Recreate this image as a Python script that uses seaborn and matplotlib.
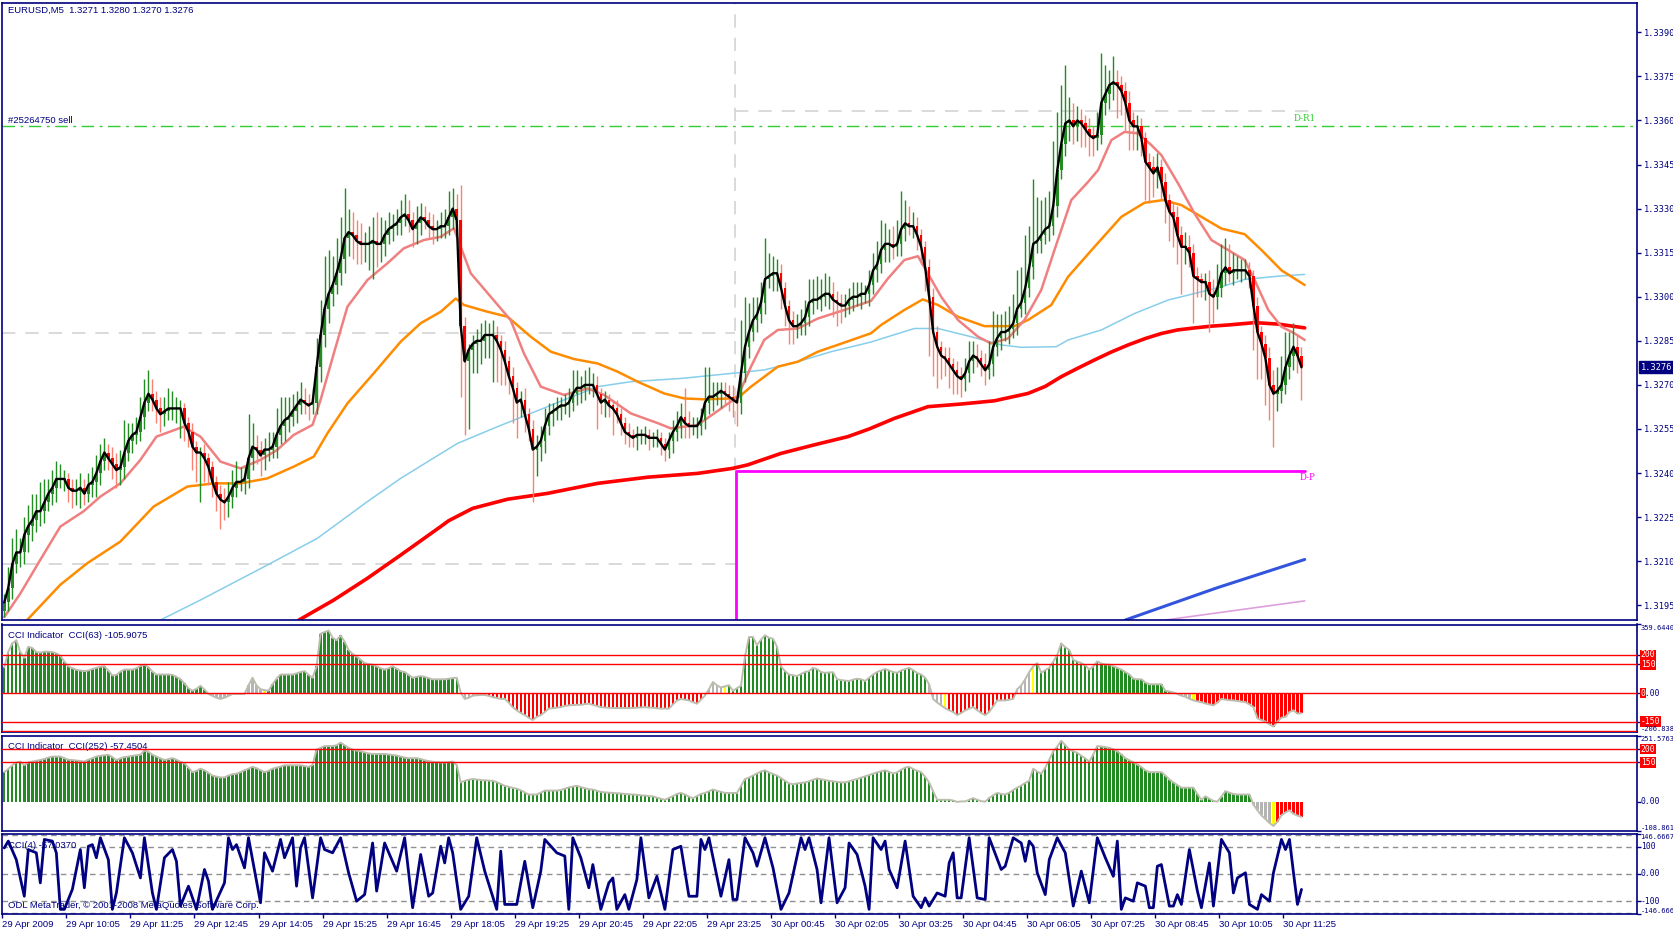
import numpy as np
import matplotlib
matplotlib.use("Agg")
import matplotlib.pyplot as plt
import matplotlib.transforms as mtrans
import seaborn as sns

# ---------------- data (prices in pips above 1.3000) ----------------
SYMBOL_TITLE = "EURUSD,M5  1.3271 1.3280 1.3270 1.3276"
FIRST_OPEN_PIPS = 193
CLOSE_PIPS = [
    196,201,209,213,213,219,222,224,227,227,230,233,235,238,238,238,235,234,234,235,233,236,237,240,244,
    247,245,243,241,242,247,251,253,254,259,264,267,265,262,260,261,262,262,262,262,257,254,249,247,247,
    245,242,237,233,231,230,232,235,237,237,238,245,249,248,246,248,248,249,253,256,258,259,261,263,265,
    264,263,264,276,287,296,301,304,308,313,320,322,321,319,318,318,318,319,318,318,321,323,324,325,327,
    328,326,323,325,327,326,324,323,323,324,324,327,330,326,290,278,282,284,285,285,287,287,287,285,282,
    278,273,269,264,265,260,255,248,249,251,256,260,261,262,263,263,264,267,269,269,270,270,270,267,264,
    265,263,262,260,257,254,253,252,253,253,253,252,252,252,250,248,251,254,256,259,257,256,256,256,258,
    264,266,266,267,268,267,266,265,264,274,283,288,292,294,298,306,307,308,308,303,297,292,290,290,291,
    293,298,299,299,300,301,301,299,298,297,297,299,300,300,301,301,304,309,311,316,318,318,317,318,323,
    325,324,324,321,317,310,300,288,283,280,279,277,275,273,272,274,278,280,279,277,275,277,283,286,288,
    288,289,291,296,298,303,310,318,319,321,323,324,331,343,352,359,360,358,360,359,357,355,354,355,366,
    369,372,373,372,370,366,360,358,358,354,346,344,342,344,339,333,329,327,321,317,317,315,307,306,305,
    305,301,300,303,308,310,308,309,309,309,309,307,297,288,284,279,270,267,268,270,276,280,283,280,276,
]
UPPER_WICK = [
    3,7,9,8,5,6,7,9,6,10,8,5,6,6,5,3,2,3,4,5,3,4,5,6,6,
    5,3,4,4,6,11,6,4,5,7,8,8,5,3,4,5,7,6,4,3,2,2,3,2,2,
    3,2,2,2,3,4,5,6,7,5,4,15,8,4,3,4,6,5,9,10,8,7,6,5,6,
    4,3,5,10,12,18,15,10,12,14,17,8,7,5,6,4,6,8,10,9,5,6,4,5,6,
    7,5,3,6,5,4,3,4,3,5,6,9,7,5,12,3,2,3,4,6,5,4,5,3,2,
    3,2,3,2,3,4,2,3,4,5,6,4,3,4,3,4,5,8,6,4,5,6,4,3,2,
    3,2,2,3,2,2,3,2,3,2,3,2,2,3,2,2,3,4,5,5,10,4,3,3,4,
    12,10,5,4,3,3,3,4,3,18,17,10,8,6,7,14,8,6,5,3,2,2,3,4,5,
    6,8,7,8,6,7,6,4,3,3,4,4,5,5,4,3,5,6,8,10,7,5,6,8,13,
    8,6,5,3,2,2,3,3,2,2,3,4,2,3,3,5,7,5,4,3,4,8,12,8,6,
    7,8,10,13,12,18,14,22,15,12,11,12,22,20,20,20,8,6,5,4,3,4,3,8,17,
    10,5,9,4,3,3,4,3,4,3,2,3,4,5,3,3,2,3,4,3,5,4,3,3,2,
    3,4,5,8,10,10,8,6,5,4,4,3,2,3,2,3,4,5,8,10,12,8,8,4,3,
]
LOWER_WICK = [
    2,3,4,3,5,4,6,5,4,5,4,3,4,5,3,4,5,6,5,6,4,3,4,5,4,
    3,4,5,6,5,4,3,4,3,3,4,3,4,5,6,4,3,4,5,10,6,5,8,10,17,
    8,6,5,6,10,6,5,4,3,3,4,3,4,5,7,5,4,3,4,3,5,4,3,4,3,
    4,5,3,4,5,4,5,4,3,4,5,6,8,8,7,6,9,12,8,6,4,3,4,3,4,
    3,4,6,5,4,3,4,5,4,3,4,3,4,5,24,25,23,8,10,8,6,8,16,14,12,
    8,6,12,12,5,6,4,18,9,5,4,3,4,3,4,3,4,3,4,5,4,3,4,12,4,
    5,4,9,3,4,4,4,3,4,3,3,4,3,3,4,4,3,4,3,4,5,4,3,4,3,
    3,4,5,3,5,4,5,6,8,4,3,4,3,4,3,4,3,5,6,7,7,8,6,4,3,
    4,3,4,3,4,3,5,6,8,6,4,3,4,3,4,3,4,3,4,3,4,6,4,3,4,
    4,3,4,5,6,8,20,15,14,8,6,8,8,6,6,4,3,4,3,4,5,3,4,3,4,
    3,4,3,4,3,4,3,4,3,4,3,4,3,4,3,4,6,6,5,8,6,7,6,4,3,
    4,5,5,11,8,10,10,8,8,6,13,12,8,5,6,8,10,10,10,16,6,5,16,6,5,
    6,13,9,4,3,4,3,4,3,4,3,4,15,16,12,16,12,18,6,4,3,4,5,6,11,
]

# moving averages, read as (bar, pips) vertices
PINK_X = [0,4,9,14,19.8,24,29,34,38,44.8,49,54,59,64,68.2,72.3,77,79,82.3,85.7,90.7,95.7,99.8,104.8,109,112.3,114,116.5,121.5,126.5,129.8,134,139.8,145.7,149.8,156.5,163.2,166.5,173.2,177.3,183.2,186.5,189.8,193.2,198.2,203.2,209.8,216.5,220.7,224.8,228.2,230.7,234,238.2,243.2,246.5,250.7,254.8,259,262.3,266.5,270.7,273.2,276.5,279.8,283.2,286.5,289,293.2,297.3,301.5,305.7,309.8,312.3,315.7,319,322.3,324.8]
PINK_Y = [191,199,210.5,221.8,227,232,236.5,244.5,252.4,255.8,252.4,243.9,241.6,244.5,247.9,253,256.4,264.9,280.7,296.6,305.7,311.4,316.5,319.3,320.4,323.3,317,308,300,292,280.7,269.4,266.6,268.8,266.6,260.3,257,255.2,256.4,260.3,266,276.2,285.3,288.7,289.2,292.6,295.5,298.6,306.2,312.5,313.8,307.9,300,292.1,286.4,284.1,285.8,292.1,302.3,315.9,332.9,339.1,343.1,353.3,356.1,355.6,351.6,348.2,338.5,328.3,319.3,315.9,312.5,305.7,295.5,289.8,287.5,285.3]
ORANGE_X = [5.7,14,20.7,29,37.3,45.7,52.3,59,65.7,72.3,77.3,80.7,85.7,92.3,99,104,109,112.75,114.8,120.7,125.7,131.5,136.5,142.3,148.2,153.2,158.2,164.8,169.8,174.8,181.5,183.6,186.5,193.2,198.2,203.2,209.8,216.5,219,224.8,229.4,233.2,238.2,244.8,252.3,255.7,261.5,265.7,272.3,279,284.8,289.4,294,299,304,309.8,314,319,324.8]
ORANGE_Y = [190,202,209.3,216.7,228.6,235.4,236.5,236.5,238.2,242.2,245.6,253.5,263.7,274,284.7,291,294.9,299.4,297.2,294.9,293.2,286.4,281.3,278.8,277.3,274.5,271.1,267.1,265.4,265.1,265.4,266,269.4,276.2,277.9,281.3,284.4,287.6,290.4,295.5,299.1,297.2,293.2,290,290,292.1,297.2,306.8,317,327.2,332,332.9,331.2,327.2,323.2,321.3,315.9,309,304]
SKY_X = [39,49,65.7,78.2,90.7,99,106.5,113.2,123.2,131.5,139.8,148.2,156.5,169,181.5,189.8,198.2,206.5,216.5,220.7,227.3,233.2,241.5,249,254,262.75,265.7,274,282.3,290.7,297.3,304,309.8,318.2,324.8]
SKY_Y = [190,196.8,208.7,217.8,230.3,238.2,244.5,250.1,255.8,260.3,264.9,269.4,271.1,272.2,273.9,275.1,277.9,281.3,284.6,286.4,289.2,289.2,286.4,283.6,282.8,283,285.3,288.7,294.3,298.9,301.1,303.4,305.9,307,307.6]
RED_X = [73.6,82.3,90.7,99,109,111,117,125.7,135.7,148.2,160.7,173.2,181.9,185.7,194,202.3,210.7,216,222.3,230.7,239,247.3,255.7,260,264,268,272.3,276.5,280.7,285,289,293,297.3,301.5,305.7,312.3,318.2,324.8]
RED_Y = [190,196.8,204.2,212.1,221.8,223.8,228,231.1,233.1,236.5,238.6,239.9,241.6,242.8,246.7,249.6,252.4,255,258.6,262.6,263.5,264.6,267.1,269.5,272.8,275.6,278.5,281.2,283.6,285.8,287.5,288.7,289.4,290,290.4,291.2,290.7,289.4]
BLUE_X = [280,303,324.8]
BLUE_Y = [190,201,210.6]
PLUM_X = [290,324.8]
PLUM_Y = [190,196.5]

# horizontal levels (price)
PIVOT_DP = 1.32408
PIVOT_R1 = 1.33631
OLD_LEVELS = [1.32876, 1.32092]
SELL_LEVEL = 1.3358
LAST_PRICE = 1.3276
DAY_SPLIT = 182.5

# CCI(63) histogram
CCI63 = [
    135,217,260,277,215,185,243,236,215,212,217,217,215,208,195,165,140,130,122,118,115,118,126,132,138,
    140,118,92,95,112,123,123,123,130,142,149,135,112,97,97,97,97,95,85,72,50,25,12,22,38,
    18,-5,-15,-25,-31,-25,-15,-5,-5,-5,-5,40,80,40,20,15,12,46,75,97,97,97,97,103,110,
    115,95,80,140,311,320,328,290,277,302,270,226,205,191,175,157,152,149,140,130,123,130,140,128,115,
    110,95,80,85,89,85,78,72,72,72,72,75,78,80,3,-31,-25,-14,-12,-10,-10,-15,-22,-26,-31,
    -31,-50,-75,-91,-105,-116,-130,-142,-125,-116,-100,-82,-80,-77,-74,-68,-65,-63,-62,-62,-58,-56,-62,-68,-74,
    -76,-78,-79,-79,-79,-79,-79,-79,-77,-76,-74,-76,-78,-80,-82,-82,-82,-60,-40,-31,-35,-39,-48,-56,-35,
    -14,20,58,40,29,35,41,12,25,38,191,294,294,251,280,303,290,285,243,140,115,97,93,89,100,
    110,115,132,125,110,106,108,109,72,68,65,63,70,75,72,63,80,97,110,118,126,118,110,106,118,
    125,132,120,105,97,80,46,-31,-50,-65,-80,-91,-100,-116,-105,-91,-82,-74,-90,-105,-116,-99,-70,-39,-39,
    -39,-35,-31,20,40,72,110,140,157,106,120,132,165,200,260,240,226,174,165,157,145,123,140,166,155,
    150,149,140,132,123,110,97,75,72,72,55,46,46,46,46,12,8,3,-5,-14,-20,-30,-39,-44,-48,
    -55,-60,-65,-50,-31,-35,-38,-39,-42,-45,-48,-60,-74,-133,-142,-150,-165,-176,-150,-130,-125,-100,-91,-108,-106,
]
CCI63_GREY = [51,52,53,54,55,56,57,58,59,60,61,62,63,64,114,115,116,117,118,175,176,177,178,179,231,232,233,234,253,254,255,256,292,293,294,295,296]
CCI63_YELLOW = [65,180,235,257,297]
CCI63_LEVELS = [200,150,0,-150,-200]
CCI63_RANGE = (-206.838, 359.644)

# CCI(252) histogram
CCI252 = [
    113,125,139,150,153,139,150,153,156,159,163,168,172,172,172,166,160,159,157,155,153,160,166,172,175,
    177,179,170,159,165,170,172,175,177,179,195,190,179,172,165,159,162,166,160,152,146,130,113,118,126,
    120,110,100,96,93,93,100,105,107,113,120,126,133,128,120,113,118,126,130,134,139,139,139,139,139,
    136,133,140,199,205,212,212,212,215,225,215,205,199,195,192,188,184,182,182,182,182,180,178,176,172,
    168,166,166,166,163,158,155,152,151,150,150,151,153,140,74,80,84,87,85,83,82,81,80,75,68,
    61,57,53,50,44,36,28,28,28,35,43,43,43,43,45,50,55,58,61,56,52,48,47,42,38,
    36,35,34,33,32,30,29,28,27,25,24,22,21,16,12,8,15,22,30,34,28,20,14,22,30,
    34,40,47,42,38,34,34,34,34,60,87,92,100,108,115,120,112,106,100,90,80,70,67,70,72,
    74,78,84,89,86,83,80,78,76,74,74,78,83,87,92,97,102,107,112,116,120,114,108,112,122,
    130,133,125,118,113,95,74,40,8,8,8,8,5,0,2,2,8,14,8,3,1,15,25,34,30,
    28,35,45,54,62,72,80,126,115,107,130,160,192,210,232,215,199,192,186,175,165,153,180,212,210,
    208,205,200,192,180,166,158,150,142,132,120,113,113,113,113,100,85,74,64,54,54,54,54,30,8,
    21,12,4,1,20,41,35,30,28,28,28,28,-10,-32,-51,-65,-80,-91,-75,-51,-40,-32,-45,-52,-57,
]
CCI252_GREY = [312,313,314,315,316]
CCI252_YELLOW = [317]
CCI252_LEVELS = [200,150]
CCI252_RANGE = (-108.861, 251.5763)

# CCI(4) line vertices (bar, value)
WCCI_BAR = [0,1,3,5,6,8,9,10,12,13,14,15,17,19,20,21,22,23,24,26,27,28,30,32,34,35,37,38,40,42,43,44,46,48,50,51,52,55,56,57,58,60,61,64,65,67,69,70,72,73,74,75,77,79,80,82,84,86,88,90,92,93,94,95,98,100,102,104,106,107,109,110,111,112,114,116,118,120,123,124,125,128,130,132,134,135,138,140,141,142,144,146,147,149,151,152,153,155,156,158,159,161,163,165,167,169,171,173,174,175,176,179,181,182,183,185,187,188,190,192,194,196,199,200,201,203,204,206,208,210,211,213,215,216,217,219,220,221,223,225,227,229,230,231,233,235,236,237,238,239,241,243,245,246,249,250,252,254,255,256,257,258,260,261,263,265,267,269,271,273,275,277,278,279,280,282,283,285,286,287,288,289,291,292,293,294,296,298,299,301,302,304,306,307,308,310,311,313,314,316,317,319,320,321,322,323,324]
WCCI_VAL = [95,120,52,-82,89,77,-33,126,120,77,-130,-130,-57,89,-51,101,107,59,132,52,-130,-70,132,77,-15,132,-70,-130,59,89,46,-118,-45,-130,16,-27,-130,-33,132,89,107,22,132,-106,77,10,126,59,132,-45,95,132,-88,132,89,77,132,4,-100,-76,113,-63,22,113,10,132,-124,71,-82,-70,101,40,132,77,-130,-82,132,10,-130,83,-112,-112,46,-124,10,126,77,65,-130,132,59,-51,34,-130,-33,-15,-130,-76,-130,-21,132,-88,-9,-130,89,101,-82,-82,126,89,132,-82,52,-94,-94,132,77,28,132,22,-130,-70,132,89,132,16,-106,132,-106,-51,113,71,-45,-130,132,89,120,16,-51,120,-82,-124,-88,-118,-70,-82,40,77,-88,-88,132,-88,-94,132,16,28,132,113,46,120,101,4,-76,52,132,77,-118,10,-106,132,59,-9,120,-130,-88,-100,-33,-45,-124,-124,28,34,-118,-118,-76,-112,89,-63,-124,40,-118,126,77,-70,-15,4,-112,-130,-76,-100,4,126,89,126,4,-112,-57]
WCCI_LEVELS = [100, 0, -100, 144, -144]
WCCI_RANGE = (-146.6667, 146.6667)

DATE_BARS = [0,16,32,48,64,80,96,112,128,144,160,176,192,208,224,240,256,272,288,304,320]
DATE_LABELS = ["29 Apr 2009","29 Apr 10:05","29 Apr 11:25","29 Apr 12:45","29 Apr 14:05","29 Apr 15:25",
               "29 Apr 16:45","29 Apr 18:05","29 Apr 19:25","29 Apr 20:45","29 Apr 22:05","29 Apr 23:25",
               "30 Apr 00:45","30 Apr 02:05","30 Apr 03:25","30 Apr 04:45","30 Apr 06:05","30 Apr 07:25",
               "30 Apr 08:45","30 Apr 10:05","30 Apr 11:25"]

for name, arr in [("close", CLOSE_PIPS), ("up", UPPER_WICK), ("dn", LOWER_WICK), ("c63", CCI63), ("c252", CCI252)]:
    assert len(arr) == 325, (name, len(arr))
assert len(WCCI_BAR) == len(WCCI_VAL), (len(WCCI_BAR), len(WCCI_VAL))
assert len(PINK_X) == len(PINK_Y) and len(ORANGE_X) == len(ORANGE_Y) and len(SKY_X) == len(SKY_Y) and len(RED_X) == len(RED_Y)

# ---------------- styling ----------------
sns.set_theme(style="white")
plt.rcParams["font.family"] = ["Liberation Sans", "DejaVu Sans"]
NAVY = "#000080"
GREEN = "#228B22"
MONO = "DejaVu Sans Mono"
FS = 6.8
LFS = 5.8
EDGE_FS = 5.0

def px(p):
    return 1.3 + np.asarray(p, dtype=float) / 10000.0

fig = plt.figure(figsize=(16.74, 9.31), dpi=100)
fig.patch.set_facecolor("white")
L, W = 2 / 1674, 1635 / 1674

def panel(top_px, bot_px):
    return fig.add_axes([L, 1 - bot_px / 931, W, (bot_px - top_px) / 931])

ax = panel(3.2, 620.3)
a1 = panel(624.5, 732.4)
a2 = panel(735.6, 830.6)
a3 = panel(833.8, 913.9)
XL = (-0.57, 407.8)
for a in (ax, a1, a2, a3):
    a.set_xlim(*XL)
    a.set_facecolor("white")
    for s in a.spines.values():
        s.set_color(NAVY)
        s.set_linewidth(1.2)
    a.yaxis.tick_right()
    a.tick_params(axis="y", direction="out", length=3, width=1, color=NAVY,
                  labelcolor=NAVY, labelsize=6.2, pad=2, right=True, left=False)
    a.grid(False)
for a in (ax, a1, a2):
    a.set_xticks([])

def rlabel(a, y, s, box=None, va="center", size=LFS):
    tr = mtrans.blended_transform_factory(a.transAxes, a.transData)
    kw = dict(transform=tr, fontsize=size, family=MONO, va=va, ha="left", clip_on=False, zorder=20)
    if box:
        a.text(1.0022, y, s, color="white", bbox=dict(facecolor=box, edgecolor="none", pad=0.6), **kw)
    else:
        a.text(1.0022, y, s, color=NAVY, **kw)

# ---------------- main price panel ----------------
n = len(CLOSE_PIPS)
idx = np.arange(n)
close = px(CLOSE_PIPS)
open_ = np.r_[px(FIRST_OPEN_PIPS), close[:-1]]
hi = np.maximum(open_, close) + np.asarray(UPPER_WICK) / 1e4
lo = np.minimum(open_, close) - np.asarray(LOWER_WICK) / 1e4
up = close >= open_

# reference levels
for lv in OLD_LEVELS:
    ax.plot([XL[0], DAY_SPLIT], [lv, lv], color="#D3D3D3", lw=1.2, dashes=(8, 6), zorder=1)
ax.plot([DAY_SPLIT, 327], [PIVOT_R1, PIVOT_R1], color="#D3D3D3", lw=1.2, dashes=(8, 6), zorder=1)
ax.plot([DAY_SPLIT, DAY_SPLIT], [PIVOT_DP, px(399.9)], color="#D3D3D3", lw=1.2, dashes=(8, 6), zorder=1)
ax.axhline(SELL_LEVEL, color="#32CD32", lw=1.0, dashes=(9, 4, 2, 4), zorder=1)
ax.plot([182.8, 182.8, 325], [px(180), PIVOT_DP, PIVOT_DP], color="#FF00FF", lw=2, zorder=2)

# moving averages
sns.lineplot(x=PLUM_X, y=px(PLUM_Y), ax=ax, color="#DDA0DD", linewidth=1.2, zorder=2)
sns.lineplot(x=BLUE_X, y=px(BLUE_Y), ax=ax, color="#3355DD", linewidth=2.2, zorder=2)
sns.lineplot(x=SKY_X, y=px(SKY_Y), ax=ax, color="#87CEEB", linewidth=1.1, zorder=2)
sns.lineplot(x=RED_X, y=px(RED_Y), ax=ax, color="#FF0000", linewidth=2.6, zorder=2)
sns.lineplot(x=ORANGE_X, y=px(ORANGE_Y), ax=ax, color="#FF8C00", linewidth=1.8, zorder=2)
sns.lineplot(x=PINK_X, y=px(PINK_Y), ax=ax, color="#F08080", linewidth=1.8, zorder=2)

# candles
ax.vlines(idx[up], lo[up], hi[up], color=GREEN, lw=1.0, zorder=3)
ax.vlines(idx[~up], lo[~up], hi[~up], color="#FA8072", lw=1.0, zorder=3)
body = np.maximum(np.abs(close - open_), 0.00002)
ax.bar(idx, body, bottom=np.minimum(open_, close), width=0.62,
       color=np.where(up, GREEN, "#FF0000"), linewidth=0, zorder=3.5)
sns.lineplot(x=idx, y=close, ax=ax, color="black", linewidth=1.7, zorder=5)

ax.set_ylim(px(189.9), px(399.9))
ax.set_yticks(px(np.arange(195, 391, 15)))
ax.set_yticklabels([f"{v:.4f}" for v in px(np.arange(195, 391, 15))], family=MONO)
ax.set_xlabel("")
ax.set_ylabel("")

ax.text(0.0034, 0.988, SYMBOL_TITLE, transform=ax.transAxes, fontsize=FS, color=NAVY, va="center", ha="left")
ax.text(1.0, SELL_LEVEL + 0.00003, "#25264750 sell", fontsize=FS, color=NAVY, va="bottom", ha="left", zorder=6)
ax.text(327.5, 1.33607, "D-R1", fontsize=6.3, color="#32CD32", family="DejaVu Serif", va="center", ha="right")
ax.text(327.5, 1.32386, "D-P", fontsize=6.3, color="#FF00FF", family="DejaVu Serif", va="center", ha="right")
tr = mtrans.blended_transform_factory(ax.transAxes, ax.transData)
ax.text(1.0025, LAST_PRICE, f"{LAST_PRICE:.4f}", transform=tr, fontsize=6.2, family=MONO, color="white",
        va="center", ha="left", clip_on=False, zorder=20,
        bbox=dict(facecolor=NAVY, edgecolor=NAVY, pad=1.2))

# ---------------- CCI(63) ----------------
def hist_colors(vals, grey, yellow):
    cols = [GREEN if v >= 0 else "#FF0000" for v in vals]
    for g in grey:
        cols[g] = "#B4B4B4"
    for y in yellow:
        cols[y] = "#FFFF00"
    return cols

a1.bar(idx, CCI63, width=0.6, color=hist_colors(CCI63, CCI63_GREY, CCI63_YELLOW), linewidth=0, zorder=2)
sns.lineplot(x=idx, y=CCI63, ax=a1, color="#BDBDAF", linewidth=1.4, zorder=3)
for lv in CCI63_LEVELS:
    a1.axhline(lv, color="#FF0000", lw=1.0, zorder=4)
a1.set_ylim(*CCI63_RANGE)
a1.set_yticks([CCI63_RANGE[1], 200, 150, 0, -150])
a1.set_yticklabels([])
a1.set_xlabel(""); a1.set_ylabel("")
a1.text(0.0034, 0.90, "CCI Indicator  CCI(63) -105.9075", transform=a1.transAxes, fontsize=FS, color=NAVY, va="center")
rlabel(a1, CCI63_RANGE[1], "359.6440", va="top", size=EDGE_FS)
rlabel(a1, 200, "200", box="#FF0000")
rlabel(a1, 150, "150", box="#FF0000")
rlabel(a1, 0, "0.00")
rlabel(a1, 0, "0", box="#FF0000")
rlabel(a1, -150, "-150", box="#FF0000")
rlabel(a1, -206.838, "-206.838", va="bottom", size=EDGE_FS)

# ---------------- CCI(252) ----------------
a2.bar(idx, CCI252, width=0.6, color=hist_colors(CCI252, CCI252_GREY, CCI252_YELLOW), linewidth=0, zorder=2)
sns.lineplot(x=idx, y=CCI252, ax=a2, color="#BDBDAF", linewidth=1.4, zorder=3)
for lv in CCI252_LEVELS:
    a2.axhline(lv, color="#FF0000", lw=1.0, zorder=4)
a2.set_ylim(*CCI252_RANGE)
a2.set_yticks([CCI252_RANGE[1], 200, 150, 0, CCI252_RANGE[0]])
a2.set_yticklabels([])
a2.set_xlabel(""); a2.set_ylabel("")
a2.text(0.0034, 0.89, "CCI Indicator  CCI(252) -57.4504", transform=a2.transAxes, fontsize=FS, color=NAVY, va="center")
rlabel(a2, CCI252_RANGE[1], "251.5763", va="top", size=EDGE_FS)
rlabel(a2, 200, "200", box="#FF0000")
rlabel(a2, 150, "150", box="#FF0000")
rlabel(a2, 0, "0.00")
rlabel(a2, CCI252_RANGE[0], "-108.861", va="bottom", size=EDGE_FS)

# ---------------- CCI(4) line ----------------
for lv in WCCI_LEVELS:
    a3.axhline(lv, color="#909090", lw=1.0, dashes=(4, 3), zorder=1)
sns.lineplot(x=WCCI_BAR, y=WCCI_VAL, ax=a3, color=NAVY, linewidth=2.0, zorder=3)
a3.set_ylim(*WCCI_RANGE)
a3.set_yticks([WCCI_RANGE[1], 100, 0, -100, WCCI_RANGE[0]])
a3.set_yticklabels([])
a3.set_ylabel("")
a3.text(0.0034, 0.86, "CCI(4) -57.0370", transform=a3.transAxes, fontsize=FS, color=NAVY, va="center", zorder=5)
a3.text(0.0034, 0.11, "ODL MetaTrader, \u00a9 2001-2008 MetaQuotes Software Corp.", transform=a3.transAxes,
        fontsize=FS, color=NAVY, va="center", zorder=5)
rlabel(a3, WCCI_RANGE[1], "146.6667", va="top", size=EDGE_FS)
rlabel(a3, 100, "100")
rlabel(a3, 0, "0.00")
rlabel(a3, -100, "-100")
rlabel(a3, WCCI_RANGE[0], "-146.666", va="bottom", size=EDGE_FS)

a3.set_xticks(np.asarray(DATE_BARS) - 0.5)
a3.set_xticklabels(DATE_LABELS)
a3.tick_params(axis="x", direction="out", length=3, width=1, color=NAVY, labelcolor=NAVY,
               labelsize=FS, pad=1.5, bottom=True)
for lbl in a3.get_xticklabels():
    lbl.set_horizontalalignment("left")
a3.set_xlabel("")

fig.savefig("out.png", dpi=100, facecolor="white")
